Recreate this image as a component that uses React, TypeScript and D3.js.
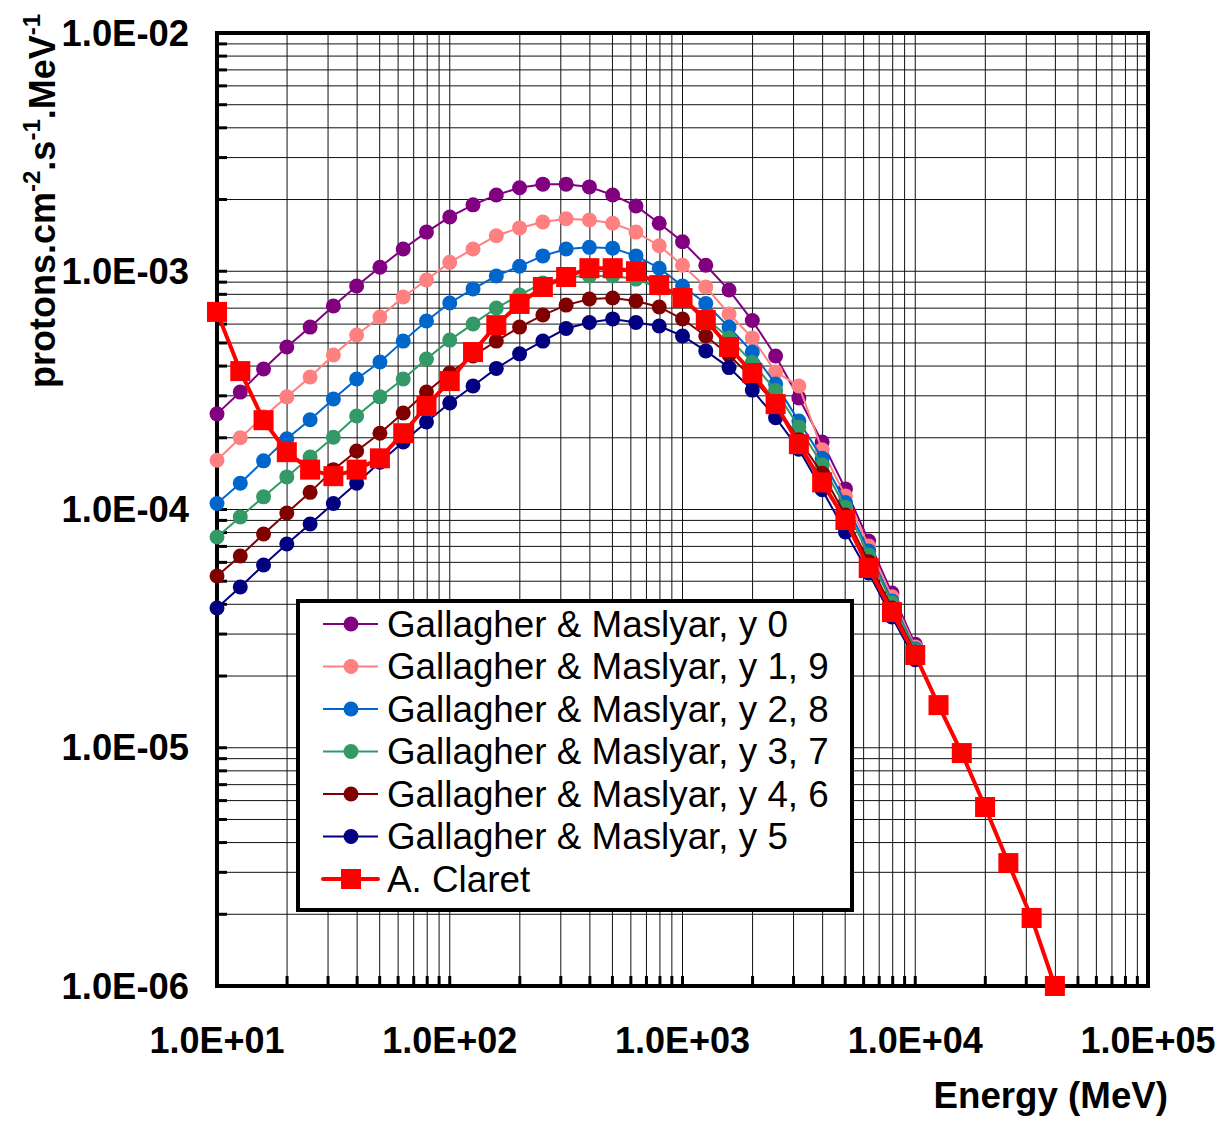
import React from 'react';
import * as d3 from 'd3';

// Energy grid (MeV)
const energyGM = [10, 12.59, 15.85, 19.95, 25.12, 31.62, 39.81, 50.12, 63.10, 79.43,
  100, 125.9, 158.5, 199.5, 251.2, 316.2, 398.1, 501.2, 631.0, 794.3,
  1000, 1259, 1585, 1995, 2512, 3162, 3981, 5012, 6310, 7943, 10000];
const energyClaret = [10, 12.59, 15.85, 19.95, 25.12, 31.62, 39.81, 50.12, 63.10, 79.43,
  100, 125.9, 158.5, 199.5, 251.2, 316.2, 398.1, 501.2, 631.0, 794.3,
  1000, 1259, 1585, 1995, 2512, 3162, 3981, 5012, 6310, 7943, 10000,
  12589, 15849, 19953, 25119, 31623, 39811];

const fluxY0 = [2.52e-4, 3.11e-4, 3.89e-4, 4.81e-4, 5.83e-4, 7.15e-4, 8.67e-4, 1.04e-3, 1.24e-3, 1.46e-3,
  1.69e-3, 1.90e-3, 2.09e-3, 2.24e-3, 2.32e-3, 2.32e-3, 2.26e-3, 2.09e-3, 1.88e-3, 1.59e-3,
  1.33e-3, 1.06e-3, 8.34e-4, 6.21e-4, 4.41e-4, 2.94e-4, 1.92e-4, 1.22e-4, 7.38e-5, 4.46e-5, 2.72e-5];
const fluxY1_9 = [1.61e-4, 2.00e-4, 2.45e-4, 2.97e-4, 3.60e-4, 4.45e-4, 5.40e-4, 6.43e-4, 7.80e-4, 9.19e-4,
  1.09e-3, 1.24e-3, 1.41e-3, 1.52e-3, 1.61e-3, 1.66e-3, 1.64e-3, 1.59e-3, 1.46e-3, 1.28e-3,
  1.06e-3, 8.59e-4, 6.62e-4, 5.25e-4, 3.78e-4, 3.30e-4, 1.78e-4, 1.14e-4, 7.03e-5, 4.30e-5, 2.65e-5];
const fluxY2_8 = [1.06e-4, 1.29e-4, 1.60e-4, 1.98e-4, 2.38e-4, 2.91e-4, 3.53e-4, 4.16e-4, 5.09e-4, 6.18e-4,
  7.36e-4, 8.43e-4, 9.55e-4, 1.05e-3, 1.16e-3, 1.24e-3, 1.26e-3, 1.25e-3, 1.16e-3, 1.03e-3,
  8.67e-4, 7.32e-4, 5.83e-4, 4.58e-4, 3.36e-4, 2.35e-4, 1.64e-4, 1.07e-4, 6.70e-5, 4.13e-5, 2.60e-5];
const fluxY3_7 = [7.67e-5, 9.31e-5, 1.13e-4, 1.37e-4, 1.66e-4, 2.01e-4, 2.47e-4, 2.97e-4, 3.53e-4, 4.28e-4,
  5.14e-4, 6.01e-4, 7.01e-4, 7.94e-4, 8.93e-4, 9.46e-4, 9.55e-4, 9.55e-4, 9.27e-4, 8.51e-4,
  7.57e-4, 6.37e-4, 5.25e-4, 4.14e-4, 3.16e-4, 2.22e-4, 1.54e-4, 1.02e-4, 6.44e-5, 4.06e-5, 2.57e-5];
const fluxY4_6 = [5.26e-5, 6.38e-5, 7.89e-5, 9.67e-5, 1.18e-4, 1.47e-4, 1.76e-4, 2.09e-4, 2.54e-4, 3.11e-4,
  3.74e-4, 4.41e-4, 5.09e-4, 5.83e-4, 6.55e-4, 7.21e-4, 7.65e-4, 7.72e-4, 7.50e-4, 7.08e-4,
  6.30e-4, 5.35e-4, 4.45e-4, 3.56e-4, 2.77e-4, 1.96e-4, 1.42e-4, 9.48e-5, 6.03e-5, 3.86e-5, 2.52e-5];
const fluxY5 = [3.86e-5, 4.73e-5, 5.85e-5, 7.16e-5, 8.69e-5, 1.06e-4, 1.29e-4, 1.58e-4, 1.92e-4, 2.33e-4,
  2.80e-4, 3.30e-4, 3.91e-4, 4.50e-4, 5.09e-4, 5.75e-4, 6.09e-4, 6.31e-4, 6.09e-4, 5.89e-4,
  5.35e-4, 4.63e-4, 3.94e-4, 3.17e-4, 2.43e-4, 1.79e-4, 1.21e-4, 8.05e-5, 5.41e-5, 3.54e-5, 2.34e-5];
const fluxClaret = [6.75e-4, 3.81e-4, 2.37e-4, 1.74e-4, 1.47e-4, 1.38e-4, 1.47e-4, 1.64e-4, 2.09e-4, 2.72e-4,
  3.46e-4, 4.58e-4, 5.94e-4, 7.29e-4, 8.59e-4, 9.46e-4, 1.03e-3, 1.03e-3, 1.00e-3, 8.75e-4,
  7.72e-4, 6.24e-4, 4.81e-4, 3.74e-4, 2.77e-4, 1.88e-4, 1.30e-4, 9.04e-5, 5.68e-5, 3.71e-5, 2.45e-5,
  1.51e-5, 9.50e-6, 5.64e-6, 3.28e-6, 1.93e-6, 1.0e-6];

const gmNames = [
  'Gallagher & Maslyar, y 0',
  'Gallagher & Maslyar, y 1, 9',
  'Gallagher & Maslyar, y 2, 8',
  'Gallagher & Maslyar, y 3, 7',
  'Gallagher & Maslyar, y 4, 6',
  'Gallagher & Maslyar, y 5',
];
const gmColors = ['#800080', '#FF8080', '#0066CC', '#339966', '#800000', '#000080'];
const gmValues = [fluxY0, fluxY1_9, fluxY2_8, fluxY3_7, fluxY4_6, fluxY5];
const claretName = 'A. Claret';
const claretColor = '#FF0000';

const xTickValues = [10, 100, 1000, 10000, 100000];
const xTickLabels = ['1.0E+01', '1.0E+02', '1.0E+03', '1.0E+04', '1.0E+05'];
const yTickValues = [1e-2, 1e-3, 1e-4, 1e-5, 1e-6];
const yTickLabels = ['1.0E-02', '1.0E-03', '1.0E-04', '1.0E-05', '1.0E-06'];

const FONT = "'Liberation Sans', Arial, Helvetica, sans-serif";

export default function App() {
  const W = 1226, H = 1121;
  const L = 217, R = 1148, T = 33, B = 986;
  const x = d3.scaleLog().domain([10, 1e5]).range([L, R]);
  const y = d3.scaleLog().domain([1e-6, 1e-2]).range([B, T]);
  const xGrid = x.ticks();
  const yGrid = y.ticks();
  const line = d3.line<[number, number]>().x(d => x(d[0])).y(d => y(d[1]));

  const gmSeries = gmValues.map((vals, i) => ({
    name: gmNames[i], color: gmColors[i],
    pts: vals.map((v, j) => [energyGM[j], v] as [number, number]),
  }));
  const claretPts = fluxClaret.map((v, j) => [energyClaret[j], v] as [number, number]);

  const legX = 298, legY = 601, legW = 554, legH = 309;
  const rowY0 = 624, rowStep = 42.5;
  const legendItems = [...gmSeries.map(s => ({ name: s.name, color: s.color, sq: false })),
    { name: claretName, color: claretColor, sq: true }];

  return (
    <svg width={W} height={H} style={{ position: 'absolute', left: 0, top: 0, background: '#fff' }}
      fontFamily={FONT}>
      <rect x={0} y={0} width={W} height={H} fill="#fff" />
      {/* grid */}
      <g stroke="#111" strokeWidth={1}>
        {xGrid.map((v, i) => <line key={'gx' + i} x1={x(v)} x2={x(v)} y1={T} y2={B} />)}
        {yGrid.map((v, i) => <line key={'gy' + i} x1={L} x2={R} y1={y(v)} y2={y(v)} />)}
      </g>
      {/* inner ticks */}
      <g stroke="#000" strokeWidth={3}>
        {xGrid.map((v, i) => <line key={'tx' + i} x1={x(v)} x2={x(v)} y1={B} y2={B - 10} />)}
        {yGrid.map((v, i) => <line key={'ty' + i} x1={L} x2={L + 10} y1={y(v)} y2={y(v)} />)}
      </g>
      {/* frame */}
      <rect x={L} y={T} width={R - L} height={B - T} fill="none" stroke="#000" strokeWidth={4} />
      {/* Gallagher series */}
      {gmSeries.map((s, i) => (
        <g key={'s' + i}>
          <path d={line(s.pts) || ''} fill="none" stroke={s.color} strokeWidth={2} />
          {s.pts.map((p, j) => <circle key={j} cx={x(p[0])} cy={y(p[1])} r={7.5} fill={s.color} />)}
        </g>
      ))}
      {/* Claret */}
      <g>
        <path d={line(claretPts) || ''} fill="none" stroke={claretColor} strokeWidth={4} strokeLinejoin="round" />
        {claretPts.map((p, j) => <rect key={j} x={x(p[0]) - 10} y={y(p[1]) - 10} width={20} height={20} fill={claretColor} />)}
      </g>
      {/* legend */}
      <rect x={legX} y={legY} width={legW} height={legH} fill="#fff" stroke="#000" strokeWidth={4} />
      {legendItems.map((it, i) => {
        const cy = rowY0 + i * rowStep;
        return (
          <g key={'l' + i}>
            <line x1={323} x2={378} y1={cy} y2={cy} stroke={it.color} strokeWidth={it.sq ? 4 : 2} strokeLinecap={it.sq ? 'round' : 'butt'} />
            {it.sq
              ? <rect x={351 - 10} y={cy - 10} width={20} height={20} fill={it.color} />
              : <circle cx={351} cy={cy} r={7.5} fill={it.color} />}
            <text x={387} y={cy + 12.5} fontSize={36.8} fill="#000">{it.name}</text>
          </g>
        );
      })}
      {/* axis labels */}
      {xTickValues.map((v, i) => (
        <text key={'xl' + i} x={x(v)} y={1053} fontSize={36} fontWeight="bold" textAnchor="middle">{xTickLabels[i]}</text>
      ))}
      {yTickValues.map((v, i) => (
        <text key={'yl' + i} x={189} y={y(v) + 12.5} fontSize={36.4} fontWeight="bold" textAnchor="end">{yTickLabels[i]}</text>
      ))}
      <text x={1168} y={1108} fontSize={36.7} fontWeight="bold" textAnchor="end">Energy (MeV)</text>
      <text transform="translate(55,388) rotate(-90)" fontSize={36} fontWeight="bold">
        <tspan>protons.cm</tspan>
        <tspan fontSize={24} dy={-15}>-2</tspan>
        <tspan dy={15}>.s</tspan>
        <tspan fontSize={24} dy={-15}>-1</tspan>
        <tspan dy={15}>.MeV</tspan>
        <tspan fontSize={24} dy={-15}>-1</tspan>
      </text>
    </svg>
  );
}
